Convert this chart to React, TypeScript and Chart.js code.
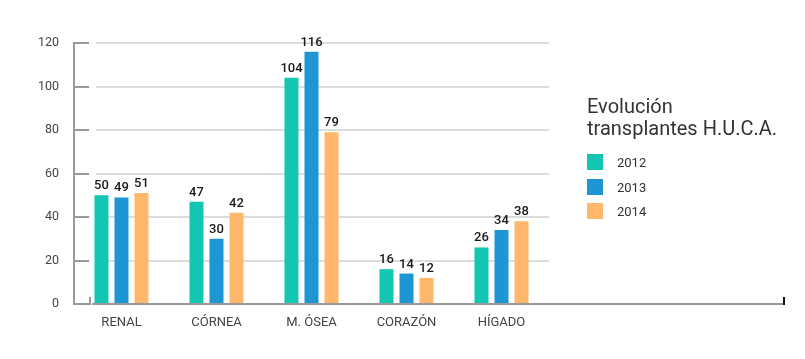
import React, { useEffect, useRef } from "react";
import { Chart, registerables } from "chart.js";

Chart.register(...registerables);

const categories = ["RENAL", "CÓRNEA", "M. ÓSEA", "CORAZÓN", "HÍGADO"];
const seriesNames = ["2012", "2013", "2014"];
const values2012 = [50, 47, 104, 16, 26];
const values2013 = [49, 30, 116, 14, 34];
const values2014 = [51, 42, 79, 12, 38];
const yMin = 0;
const yMax = 120;
const yStep = 20;
const titleLines = ["Evolución", "transplantes H.U.C.A."];
const seriesColors = ["#12C6B3", "#1F96D4", "#FFB86B"];

const FONT = "Roboto, 'Noto Sans', sans-serif";
const W = 805;
const H = 359;

const axesPlugin = {
  id: "customAxes",
  beforeDatasetsDraw(chart: any) {
    const { ctx, chartArea, scales } = chart;
    const y = scales.y;
    ctx.save();
    ctx.lineWidth = 2;
    y.ticks.forEach((t: any) => {
      const py = Math.round(y.getPixelForValue(t.value));
      if (t.value === 0) return;
      ctx.strokeStyle = "#dcdcdc";
      ctx.beginPath();
      ctx.moveTo(chartArea.left + 22, py);
      ctx.lineTo(chartArea.right, py);
      ctx.stroke();
      ctx.strokeStyle = "#999999";
      ctx.beginPath();
      ctx.moveTo(chartArea.left, py);
      ctx.lineTo(chartArea.left + 15, py);
      ctx.stroke();
    });
    ctx.restore();
  },
  afterDatasetsDraw(chart: any) {
    const { ctx, chartArea, scales } = chart;
    const y = scales.y;
    const top = Math.round(y.getPixelForValue(yMax));
    const zero = Math.round(y.getPixelForValue(0));
    ctx.save();
    ctx.lineWidth = 2;
    ctx.strokeStyle = "#999999";
    ctx.beginPath();
    ctx.moveTo(chartArea.left, top - 1);
    ctx.lineTo(chartArea.left, zero);
    ctx.lineTo(chartArea.left + 16, zero);
    ctx.lineTo(chartArea.left + 16, zero - 7);
    ctx.stroke();
    ctx.beginPath();
    ctx.moveTo(chartArea.left + 18, zero);
    ctx.lineTo(chart.width - 21, zero);
    ctx.stroke();
    ctx.strokeStyle = "#111111";
    ctx.beginPath();
    ctx.moveTo(chart.width - 21, zero + 1);
    ctx.lineTo(chart.width - 21, zero - 7);
    ctx.stroke();
    ctx.restore();
  },
};

const valueLabelPlugin = {
  id: "valueLabels",
  afterDatasetsDraw(chart: any) {
    const { ctx } = chart;
    ctx.save();
    ctx.font = `500 13px ${FONT}`;
    ctx.fillStyle = "#1a1a1a";
    ctx.textAlign = "center";
    ctx.textBaseline = "alphabetic";
    chart.data.datasets.forEach((ds: any, di: number) => {
      const meta = chart.getDatasetMeta(di);
      meta.data.forEach((bar: any, i: number) => {
        ctx.fillText(String(ds.data[i]), bar.x, bar.y - 6);
      });
    });
    ctx.restore();
  },
};

const legendPlugin = {
  id: "sideLegend",
  afterDraw(chart: any) {
    const { ctx, chartArea } = chart;
    const x = chartArea.right + 38;
    ctx.save();
    ctx.fillStyle = "#333333";
    ctx.font = `400 20px ${FONT}`;
    ctx.textAlign = "left";
    ctx.textBaseline = "alphabetic";
    titleLines.forEach((line, i) => {
      ctx.fillText(line, x, chartArea.top + 70 + i * 22);
    });
    ctx.font = `400 13px ${FONT}`;
    chart.data.datasets.forEach((ds: any, i: number) => {
      const by = chartArea.top + 111 + i * 24.5;
      ctx.fillStyle = ds.backgroundColor;
      ctx.fillRect(x, Math.round(by), 16, 16);
      ctx.fillStyle = "#333333";
      ctx.fillText(ds.label, x + 30, Math.round(by) + 12.5);
    });
    ctx.restore();
  },
};

export default function App() {
  const ref = useRef<HTMLCanvasElement | null>(null);

  useEffect(() => {
    if (!ref.current) return;
    const seriesValues = [values2012, values2013, values2014];
    const chart = new Chart(ref.current, {
      type: "bar",
      data: {
        labels: categories,
        datasets: seriesNames.map((name, i) => ({
          label: name,
          data: seriesValues[i],
          backgroundColor: seriesColors[i],
          borderWidth: 0,
          categoryPercentage: 0.632,
          barPercentage: 0.7,
        })),
      },
      options: {
        responsive: false,
        animation: false,
        devicePixelRatio: 1,
        layout: { padding: { top: 43, right: 256, left: 0, bottom: 0 } },
        plugins: {
          legend: { display: false },
          tooltip: { enabled: false },
          title: { display: false },
        },
        scales: {
          x: {
            grid: { display: false, drawTicks: false, tickLength: 0 },
            border: { display: false },
            ticks: {
              color: "#444444",
              font: { family: FONT, size: 13 },
              padding: 11,
              maxRotation: 0,
              autoSkip: false,
            },
            afterFit: (s: any) => {
              s.height = 55;
            },
          },
          y: {
            min: yMin,
            max: yMax,
            grid: { display: false, drawTicks: false, tickLength: 0 },
            border: { display: false },
            ticks: {
              stepSize: yStep,
              color: "#444444",
              font: { family: FONT, size: 12.5 },
              padding: 15,
            },
            afterFit: (s: any) => {
              s.width = 74;
            },
          },
        },
      },
      plugins: [axesPlugin, valueLabelPlugin, legendPlugin],
    });
    return () => chart.destroy();
  }, []);

  return (
    <div style={{ position: "fixed", left: 0, top: 0, width: W, height: H, background: "#ffffff" }}>
      <canvas ref={ref} width={W} height={H} style={{ display: "block", width: W, height: H }} />
    </div>
  );
}
